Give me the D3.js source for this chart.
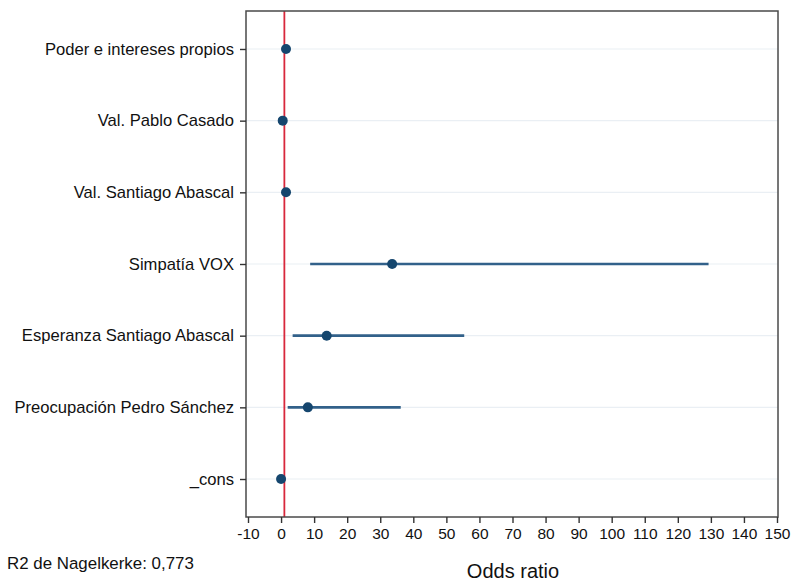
<!DOCTYPE html>
<html>
<head>
<meta charset="utf-8">
<script src="https://cdn.jsdelivr.net/npm/d3@7"></script>
<style>
  html, body { margin: 0; padding: 0; background: #fff; }
  svg { display: block; font-family: "Liberation Sans", Arial, Helvetica, sans-serif; }
</style>
</head>
<body>
<svg id="chart" width="792" height="581"></svg>
<script>
const categories = [
  "Poder e intereses propios",
  "Val. Pablo Casado",
  "Val. Santiago Abascal",
  "Simpatía VOX",
  "Esperanza Santiago Abascal",
  "Preocupación Pedro Sánchez",
  "_cons"
];
const oddsRatio = [1.5, 0.5, 1.5, 33.6, 13.8, 8.1, 0.0];
const ciLow     = [1.2, 0.3, 1.2, 8.8, 3.5, 2.0, 0.0];
const ciHigh    = [1.9, 0.8, 1.9, 129.3, 55.4, 36.2, 0.0];
const xTicks = [-10, 0, 10, 20, 30, 40, 50, 60, 70, 80, 90, 100, 110, 120, 130, 140, 150];
const refValue = 1;
const xTitle = "Odds ratio";
const note = "R2 de Nagelkerke: 0,773";

const svg = d3.select("#chart");
const frame = { left: 246, right: 778, top: 11, bottom: 517 };

const x = d3.scaleLinear().domain([-10, 150]).range([248, 777]);
const y = d3.scalePoint().domain(categories).range([frame.top, frame.bottom]).padding(0.53);

const data = categories.map((c, i) => ({ c, or: oddsRatio[i], lo: ciLow[i], hi: ciHigh[i] }));

// gridlines
svg.append("g").selectAll("line").data(categories).join("line")
  .attr("x1", frame.left).attr("x2", frame.right)
  .attr("y1", d => y(d)).attr("y2", d => y(d))
  .attr("stroke", "#eaeff4").attr("stroke-width", 1.2);

// reference line
svg.append("line")
  .attr("x1", x(refValue)).attr("x2", x(refValue))
  .attr("y1", frame.top).attr("y2", frame.bottom)
  .attr("stroke", "#d8283c").attr("stroke-width", 1.8);

// CI lines
svg.append("g").selectAll("line").data(data).join("line")
  .attr("x1", d => x(d.lo)).attr("x2", d => x(d.hi))
  .attr("y1", d => y(d.c)).attr("y2", d => y(d.c))
  .attr("stroke", "#32618a").attr("stroke-width", 2.6);

// points
svg.append("g").selectAll("circle").data(data).join("circle")
  .attr("cx", d => x(d.or)).attr("cy", d => y(d.c))
  .attr("r", 5).attr("fill", "#15466e");

// frame
svg.append("rect")
  .attr("x", frame.left).attr("y", frame.top)
  .attr("width", frame.right - frame.left).attr("height", frame.bottom - frame.top)
  .attr("fill", "none").attr("stroke", "#4a4a4a").attr("stroke-width", 1.5);

// x axis
const xAxis = svg.append("g")
  .attr("transform", `translate(0,${frame.bottom})`)
  .call(d3.axisBottom(x).tickValues(xTicks).tickSize(6).tickPadding(5).tickFormat(d => String(d)));
xAxis.select(".domain").remove();
xAxis.selectAll(".tick line").attr("stroke", "#333").attr("stroke-width", 1.4);
xAxis.selectAll(".tick text").attr("fill", "#111").style("font-size", "15.5px")
  .style("font-family", "'Liberation Sans', Arial, sans-serif");

// y axis
const yAxis = svg.append("g")
  .attr("transform", `translate(${frame.left},0)`)
  .call(d3.axisLeft(y).tickSize(6).tickPadding(6));
yAxis.select(".domain").remove();
yAxis.selectAll(".tick line").attr("stroke", "#333").attr("stroke-width", 1.4);
yAxis.selectAll(".tick text").attr("fill", "#111").style("font-size", "16.6px")
  .style("font-family", "'Liberation Sans', Arial, sans-serif");

// x title
svg.append("text")
  .attr("x", (frame.left + frame.right) / 2 + 1).attr("y", 578)
  .attr("text-anchor", "middle")
  .style("font-size", "20px").attr("fill", "#111")
  .text(xTitle);

// note
svg.append("text")
  .attr("x", 7).attr("y", 569)
  .style("font-size", "16.9px").attr("fill", "#111")
  .text(note);
</script>
</body>
</html>
